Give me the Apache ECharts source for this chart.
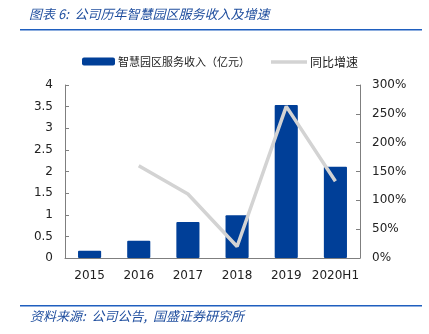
<!DOCTYPE html>
<html><head><meta charset="utf-8">
<script src="https://cdn.jsdelivr.net/npm/echarts@6/dist/echarts.min.js"></script>
<style>html,body{margin:0;padding:0;background:#fff}#c{width:429px;height:334px}</style>
</head><body><div id="c"></div>
<script>
const categories = ['2015','2016','2017','2018','2019','2020H1'];
const revenue = [0.17, 0.40, 0.83, 0.99, 3.54, 2.11];
const growth = [null, 160, 111, 20, 263, 133];
const titleText = '图表 6:  公司历年智慧园区服务收入及增速';
const sourceText = '资料来源:  公司公告,  国盛证券研究所';
const seriesNames = ['智慧园区服务收入（亿元）', '同比增速'];

const chart = echarts.init(document.getElementById('c'), null, {renderer:'canvas'});
const axisColor = '#7f7f7f';
const labelFont = {color:'#222', fontSize:12, fontFamily:'DejaVu Sans'};
chart.setOption({
  animation:false,
  graphic:[
    {type:'text', left:29, top:8, style:{text:titleText, fill:'#1f4e9e', font:'italic 13px "Noto Sans CJK SC"'}},
    {type:'rect', shape:{x:20, y:29, width:402, height:1.5}, style:{fill:'#1f5fbf'}},
    {type:'rect', shape:{x:20, y:305, width:402, height:1.5}, style:{fill:'#1f5fbf'}},
    {type:'text', left:30, top:310, style:{text:sourceText, fill:'#1f4e9e', font:'italic 13px "Noto Sans CJK SC"'}}
  ],
  legend:[
    {top:56, left:82, padding:0, itemGap:8,
     textStyle:{fontSize:11, color:'#222', fontFamily:'Noto Sans CJK SC', padding:[0,0,0,-2]},
     data:[{name:seriesNames[0], icon:'roundRect', itemStyle:{color:'#003f98'}}],
     itemWidth:33, itemHeight:8},
    {top:56, left:271, padding:0, itemGap:8,
     textStyle:{fontSize:12, color:'#222', fontFamily:'Noto Sans CJK SC', padding:[0,0,0,-2]},
     data:[{name:seriesNames[1], icon:'rect', itemStyle:{color:'#d3d3d3'}}],
     itemWidth:36, itemHeight:3.5}
  ],
  grid:{left:65, right:69, top:85, bottom:76},
  xAxis:{
    type:'category', data:categories,
    axisLine:{lineStyle:{color:axisColor}},
    axisTick:{inside:true, length:5, lineStyle:{color:axisColor}},
    axisLabel:Object.assign({margin:12, interval:0}, labelFont)
  },
  yAxis:[
    {type:'value', min:0, max:4, interval:0.5,
     axisLine:{show:true, lineStyle:{color:axisColor}},
     axisTick:{show:true, inside:true, length:4, lineStyle:{color:axisColor}},
     splitLine:{show:false},
     axisLabel:Object.assign({margin:12, formatter:v=>String(v)}, labelFont)},
    {type:'value', min:0, max:300, interval:50, position:'right',
     axisLine:{show:true, lineStyle:{color:axisColor}},
     axisTick:{show:true, inside:true, length:4, lineStyle:{color:axisColor}},
     splitLine:{show:false},
     axisLabel:Object.assign({margin:12, formatter:'{value}%'}, labelFont)}
  ],
  series:[
    {name:seriesNames[0], type:'bar', data:revenue, barWidth:'47%', itemStyle:{color:'#003f98', borderRadius:1}},
    {name:seriesNames[1], type:'line', yAxisIndex:1, data:growth, symbol:'none',
     lineStyle:{color:'#d3d3d3', width:3.5}, itemStyle:{color:'#d3d3d3'}}
  ]
});
</script></body></html>
